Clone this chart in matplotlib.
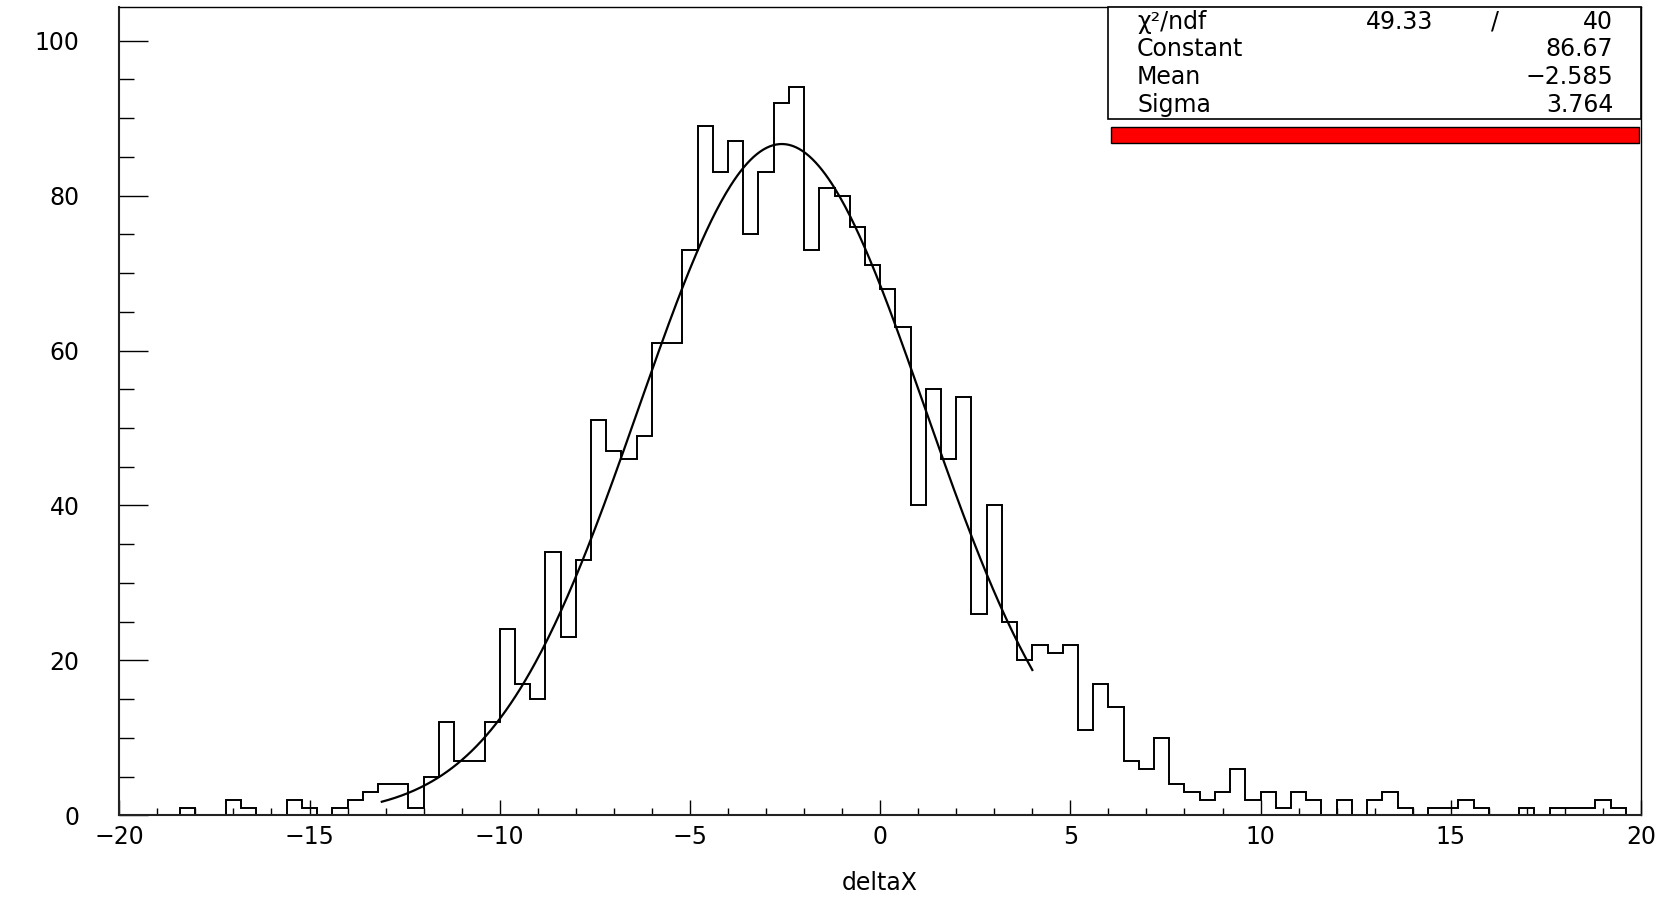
import numpy as np
import matplotlib
matplotlib.use("Agg")
import matplotlib.pyplot as plt
from matplotlib.patches import Rectangle

# deltaX histogram: 100 bins from -20 to 20
x_min, x_max, n_bins = -20.0, 20.0, 100
counts = [
    0, 0, 0, 0, 1, 0, 0, 2, 1, 0,
    0, 2, 1, 0, 1, 2, 3, 4, 4, 1,
    5, 12, 7, 7, 12, 24, 17, 15, 34, 23,
    33, 51, 47, 46, 49, 61, 61, 73, 89, 83,
    87, 75, 83, 92, 94, 73, 81, 80, 76, 71,
    68, 63, 40, 55, 46, 54, 26, 40, 25, 20,
    22, 21, 22, 11, 17, 14, 7, 6, 10, 4,
    3, 2, 3, 6, 2, 3, 1, 3, 2, 0,
    2, 0, 2, 3, 1, 0, 1, 1, 2, 1,
    0, 0, 1, 0, 1, 1, 1, 2, 1, 0,
]

# gaussian fit results
fit_constant = 86.67
fit_mean = -2.585
fit_sigma = 3.764
fit_range = (-13.1, 4.0)
chi2, ndf = 49.33, 40

stat_names = ["Constant", "Mean", "Sigma"]
stat_values = ["86.67", "\u22122.585", "3.764"]

x_ticks = [-20, -15, -10, -5, 0, 5, 10, 15, 20]
y_ticks = [0, 20, 40, 60, 80, 100]

plt.rcParams["font.family"] = ["DejaVu Sans"]
plt.rcParams["font.size"] = 17

fig = plt.figure(figsize=(16.81, 8.98), dpi=100)
ax = fig.add_axes([0.07097, 0.0921, 0.90524, 0.90045])

edges = np.linspace(x_min, x_max, n_bins + 1)
ax.stairs(counts, edges, color="black", linewidth=1.4, baseline=0)

xs = np.linspace(fit_range[0], fit_range[1], 400)
ys = fit_constant * np.exp(-0.5 * ((xs - fit_mean) / fit_sigma) ** 2)
ax.plot(xs, ys, color="black", linewidth=1.6)

ax.set_xlim(x_min, x_max)
ax.set_ylim(0, 104.4)

ax.set_xticks(x_ticks)
ax.set_xticks(np.arange(-20, 21, 1), minor=True)
ax.set_yticks(y_ticks)
ax.set_yticks(np.arange(0, 105, 5), minor=True)

ax.tick_params(axis="x", which="major", direction="in", length=10.5, width=1, pad=7)
ax.tick_params(axis="x", which="minor", direction="in", length=5, width=1)
ax.tick_params(axis="y", which="major", direction="in", length=21, width=1, pad=28.5)
ax.tick_params(axis="y", which="minor", direction="in", length=10.5, width=1)
ax.tick_params(top=False, right=False, which="both")

for side in ["left", "bottom"]:
    ax.spines[side].set_linewidth(1.5)
    ax.spines[side].set_color("#222222")
for side in ["top", "right"]:
    ax.spines[side].set_linewidth(1.0)

# axis title centred under the frame
fig.text(0.5235, 0.009, "deltaX", ha="center", va="baseline")

# fit statistics box in the top right corner
ax.add_patch(Rectangle((0.6497, 0.8611), 0.3503, 0.1389, transform=ax.transAxes,
                       facecolor="white", edgecolor="black", linewidth=1.2,
                       zorder=5, clip_on=False))
ax.add_patch(Rectangle((0.6517, 0.8311), 0.347, 0.0205, transform=ax.transAxes,
                       facecolor="#ff0000", edgecolor="black", linewidth=1.0,
                       zorder=5, clip_on=False))

row_y = [0.9814, 0.9473, 0.9127, 0.8784]
ax.text(0.6688, row_y[0], "\u03c7\u00b2/ndf", transform=ax.transAxes,
        ha="left", va="center", zorder=6)
ax.text(0.8636, row_y[0], f"{chi2:.2f}", transform=ax.transAxes,
        ha="right", va="center", zorder=6)
ax.text(0.9041, row_y[0], "/", transform=ax.transAxes,
        ha="center", va="center", zorder=6)
ax.text(0.9817, row_y[0], f"{ndf}", transform=ax.transAxes,
        ha="right", va="center", zorder=6)
for name, val, y in zip(stat_names, stat_values, row_y[1:]):
    ax.text(0.6688, y, name, transform=ax.transAxes, ha="left", va="center", zorder=6)
    ax.text(0.9817, y, val, transform=ax.transAxes, ha="right", va="center", zorder=6)

fig.savefig("out.png", dpi=100, facecolor="white")
